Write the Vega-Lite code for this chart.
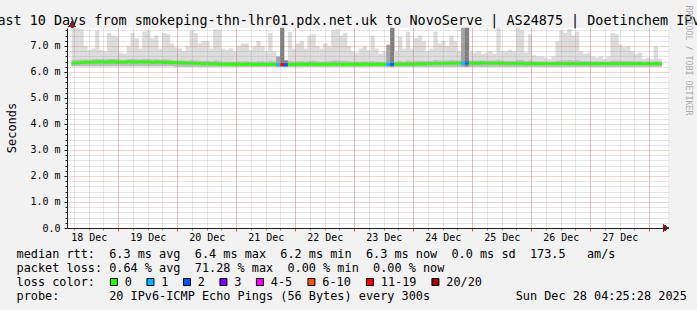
{
  "$schema": "https://vega.github.io/schema/vega-lite/v6.json",
  "width": 601,
  "height": 200,
  "autosize": {"type": "none"},
  "padding": {"left": 67, "top": 28, "right": 29, "bottom": 82},
  "background": "#f2f2f2",
  "config": {
    "view": {"fill": "#ffffff", "stroke": null},
    "font": "DejaVu Sans Mono",
    "axis": {"labelFont": "DejaVu Sans Mono", "titleFont": "DejaVu Sans Mono", "titleFontWeight": "normal", "labelColor": "#000000", "titleColor": "#000000", "labelFlush": false, "labelOverlap": false}
  },
  "data": {"values": [
    {"t":"2025-12-18T05:53:00Z","lo":6.22,"p":6.46,"hi":7.7,"med":6.34,"loss":"0"},
    {"t":"2025-12-18T07:29:00Z","lo":6.22,"p":6.47,"hi":7.7,"med":6.35,"loss":"0"},
    {"t":"2025-12-18T09:05:00Z","lo":6.22,"p":6.48,"hi":7.65,"med":6.36,"loss":"0"},
    {"t":"2025-12-18T10:41:00Z","lo":6.22,"p":6.48,"hi":7.0,"med":6.37,"loss":"0"},
    {"t":"2025-12-18T12:17:00Z","lo":6.22,"p":6.47,"hi":6.85,"med":6.37,"loss":"0"},
    {"t":"2025-12-18T13:53:00Z","lo":6.22,"p":6.49,"hi":6.9,"med":6.38,"loss":"0"},
    {"t":"2025-12-18T15:29:00Z","lo":6.22,"p":6.5,"hi":7.6,"med":6.38,"loss":"0"},
    {"t":"2025-12-18T17:05:00Z","lo":6.22,"p":6.49,"hi":6.85,"med":6.39,"loss":"0"},
    {"t":"2025-12-18T18:41:00Z","lo":6.22,"p":6.48,"hi":6.8,"med":6.38,"loss":"0"},
    {"t":"2025-12-18T20:17:00Z","lo":6.22,"p":6.5,"hi":7.5,"med":6.38,"loss":"0"},
    {"t":"2025-12-18T21:53:00Z","lo":6.22,"p":6.5,"hi":7.4,"med":6.39,"loss":"0"},
    {"t":"2025-12-18T23:29:00Z","lo":6.22,"p":6.49,"hi":7.35,"med":6.38,"loss":"0"},
    {"t":"2025-12-19T01:05:00Z","lo":6.22,"p":6.47,"hi":6.75,"med":6.38,"loss":"0"},
    {"t":"2025-12-19T02:41:00Z","lo":6.22,"p":6.47,"hi":6.7,"med":6.38,"loss":"0"},
    {"t":"2025-12-19T04:17:00Z","lo":6.22,"p":6.49,"hi":7.0,"med":6.39,"loss":"0"},
    {"t":"2025-12-19T05:53:00Z","lo":6.22,"p":6.5,"hi":7.5,"med":6.38,"loss":"0"},
    {"t":"2025-12-19T07:29:00Z","lo":6.22,"p":6.49,"hi":7.3,"med":6.38,"loss":"0"},
    {"t":"2025-12-19T09:05:00Z","lo":6.22,"p":6.48,"hi":6.9,"med":6.39,"loss":"0"},
    {"t":"2025-12-19T10:41:00Z","lo":6.22,"p":6.5,"hi":7.55,"med":6.38,"loss":"0"},
    {"t":"2025-12-19T12:17:00Z","lo":6.22,"p":6.5,"hi":7.6,"med":6.38,"loss":"0"},
    {"t":"2025-12-19T13:53:00Z","lo":6.22,"p":6.48,"hi":7.3,"med":6.37,"loss":"0"},
    {"t":"2025-12-19T15:29:00Z","lo":6.22,"p":6.49,"hi":7.4,"med":6.38,"loss":"0"},
    {"t":"2025-12-19T17:05:00Z","lo":6.22,"p":6.47,"hi":6.9,"med":6.38,"loss":"0"},
    {"t":"2025-12-19T18:41:00Z","lo":6.22,"p":6.49,"hi":7.5,"med":6.37,"loss":"0"},
    {"t":"2025-12-19T20:17:00Z","lo":6.22,"p":6.48,"hi":7.45,"med":6.37,"loss":"0"},
    {"t":"2025-12-19T21:53:00Z","lo":6.22,"p":6.46,"hi":7.1,"med":6.36,"loss":"0"},
    {"t":"2025-12-19T23:29:00Z","lo":6.2,"p":6.45,"hi":6.95,"med":6.36,"loss":"0"},
    {"t":"2025-12-20T01:05:00Z","lo":6.2,"p":6.45,"hi":6.9,"med":6.35,"loss":"0"},
    {"t":"2025-12-20T02:41:00Z","lo":6.2,"p":6.44,"hi":6.8,"med":6.35,"loss":"0"},
    {"t":"2025-12-20T04:17:00Z","lo":6.2,"p":6.44,"hi":7.0,"med":6.34,"loss":"0"},
    {"t":"2025-12-20T05:53:00Z","lo":6.2,"p":6.46,"hi":7.6,"med":6.34,"loss":"0"},
    {"t":"2025-12-20T07:29:00Z","lo":6.2,"p":6.45,"hi":7.5,"med":6.33,"loss":"0"},
    {"t":"2025-12-20T09:05:00Z","lo":6.2,"p":6.43,"hi":7.1,"med":6.33,"loss":"0"},
    {"t":"2025-12-20T10:41:00Z","lo":6.2,"p":6.43,"hi":7.2,"med":6.32,"loss":"0"},
    {"t":"2025-12-20T12:17:00Z","lo":6.2,"p":6.43,"hi":7.2,"med":6.32,"loss":"0"},
    {"t":"2025-12-20T13:53:00Z","lo":6.2,"p":6.41,"hi":6.9,"med":6.31,"loss":"0"},
    {"t":"2025-12-20T15:29:00Z","lo":6.2,"p":6.44,"hi":7.65,"med":6.31,"loss":"0"},
    {"t":"2025-12-20T17:05:00Z","lo":6.2,"p":6.43,"hi":7.6,"med":6.3,"loss":"0"},
    {"t":"2025-12-20T18:41:00Z","lo":6.2,"p":6.4,"hi":6.9,"med":6.3,"loss":"0"},
    {"t":"2025-12-20T20:17:00Z","lo":6.2,"p":6.4,"hi":6.85,"med":6.3,"loss":"0"},
    {"t":"2025-12-20T21:53:00Z","lo":6.2,"p":6.4,"hi":6.9,"med":6.29,"loss":"0"},
    {"t":"2025-12-20T23:29:00Z","lo":6.2,"p":6.4,"hi":6.8,"med":6.3,"loss":"0"},
    {"t":"2025-12-21T01:05:00Z","lo":6.2,"p":6.41,"hi":7.0,"med":6.3,"loss":"0"},
    {"t":"2025-12-21T02:41:00Z","lo":6.2,"p":6.41,"hi":7.1,"med":6.29,"loss":"0"},
    {"t":"2025-12-21T04:17:00Z","lo":6.2,"p":6.42,"hi":7.1,"med":6.3,"loss":"0"},
    {"t":"2025-12-21T05:53:00Z","lo":6.2,"p":6.4,"hi":6.85,"med":6.3,"loss":"0"},
    {"t":"2025-12-21T07:29:00Z","lo":6.2,"p":6.4,"hi":7.0,"med":6.29,"loss":"0"},
    {"t":"2025-12-21T09:05:00Z","lo":6.2,"p":6.42,"hi":7.2,"med":6.29,"loss":"0"},
    {"t":"2025-12-21T10:41:00Z","lo":6.2,"p":6.41,"hi":7.0,"med":6.3,"loss":"0"},
    {"t":"2025-12-21T12:17:00Z","lo":6.2,"p":6.4,"hi":6.8,"med":6.29,"loss":"0"},
    {"t":"2025-12-21T13:53:00Z","lo":6.2,"p":6.43,"hi":7.5,"med":6.29,"loss":"0"},
    {"t":"2025-12-21T15:29:00Z","lo":6.2,"p":6.4,"hi":6.8,"med":6.29,"loss":"0"},
    {"t":"2025-12-21T17:05:00Z","lo":6.2,"p":6.4,"hi":6.6,"med":6.28,"loss":"1"},
    {"t":"2025-12-21T18:41:00Z","lo":6.2,"p":6.45,"hi":7.7,"med":6.29,"loss":"11-19"},
    {"t":"2025-12-21T20:17:00Z","lo":6.2,"p":6.4,"hi":6.45,"med":6.28,"loss":"2"},
    {"t":"2025-12-21T21:53:00Z","lo":6.2,"p":6.43,"hi":7.55,"med":6.29,"loss":"0"},
    {"t":"2025-12-21T23:29:00Z","lo":6.2,"p":6.4,"hi":6.9,"med":6.3,"loss":"0"},
    {"t":"2025-12-22T01:05:00Z","lo":6.2,"p":6.41,"hi":7.1,"med":6.3,"loss":"0"},
    {"t":"2025-12-22T02:41:00Z","lo":6.2,"p":6.42,"hi":7.2,"med":6.3,"loss":"0"},
    {"t":"2025-12-22T04:17:00Z","lo":6.2,"p":6.4,"hi":6.9,"med":6.29,"loss":"0"},
    {"t":"2025-12-22T05:53:00Z","lo":6.2,"p":6.43,"hi":7.4,"med":6.3,"loss":"0"},
    {"t":"2025-12-22T07:29:00Z","lo":6.2,"p":6.43,"hi":7.45,"med":6.3,"loss":"0"},
    {"t":"2025-12-22T09:05:00Z","lo":6.2,"p":6.41,"hi":7.0,"med":6.29,"loss":"0"},
    {"t":"2025-12-22T10:41:00Z","lo":6.2,"p":6.4,"hi":6.9,"med":6.3,"loss":"0"},
    {"t":"2025-12-22T12:17:00Z","lo":6.2,"p":6.41,"hi":7.1,"med":6.3,"loss":"0"},
    {"t":"2025-12-22T13:53:00Z","lo":6.2,"p":6.41,"hi":7.0,"med":6.29,"loss":"0"},
    {"t":"2025-12-22T15:29:00Z","lo":6.2,"p":6.44,"hi":7.6,"med":6.3,"loss":"0"},
    {"t":"2025-12-22T17:05:00Z","lo":6.2,"p":6.44,"hi":7.65,"med":6.3,"loss":"0"},
    {"t":"2025-12-22T18:41:00Z","lo":6.2,"p":6.43,"hi":7.4,"med":6.3,"loss":"0"},
    {"t":"2025-12-22T20:17:00Z","lo":6.2,"p":6.43,"hi":7.5,"med":6.29,"loss":"0"},
    {"t":"2025-12-22T21:53:00Z","lo":6.2,"p":6.41,"hi":7.0,"med":6.3,"loss":"0"},
    {"t":"2025-12-22T23:29:00Z","lo":6.2,"p":6.4,"hi":6.8,"med":6.3,"loss":"0"},
    {"t":"2025-12-23T01:05:00Z","lo":6.2,"p":6.4,"hi":6.75,"med":6.3,"loss":"0"},
    {"t":"2025-12-23T02:41:00Z","lo":6.2,"p":6.4,"hi":6.9,"med":6.29,"loss":"0"},
    {"t":"2025-12-23T04:17:00Z","lo":6.2,"p":6.41,"hi":7.0,"med":6.3,"loss":"0"},
    {"t":"2025-12-23T05:53:00Z","lo":6.2,"p":6.4,"hi":6.85,"med":6.3,"loss":"0"},
    {"t":"2025-12-23T07:29:00Z","lo":6.2,"p":6.42,"hi":7.4,"med":6.29,"loss":"0"},
    {"t":"2025-12-23T09:05:00Z","lo":6.2,"p":6.4,"hi":6.9,"med":6.3,"loss":"0"},
    {"t":"2025-12-23T10:41:00Z","lo":6.2,"p":6.39,"hi":6.7,"med":6.3,"loss":"0"},
    {"t":"2025-12-23T12:17:00Z","lo":6.2,"p":6.39,"hi":6.8,"med":6.29,"loss":"0"},
    {"t":"2025-12-23T13:53:00Z","lo":6.2,"p":6.41,"hi":7.05,"med":6.29,"loss":"1"},
    {"t":"2025-12-23T15:29:00Z","lo":6.2,"p":6.45,"hi":7.7,"med":6.3,"loss":"2"},
    {"t":"2025-12-23T17:05:00Z","lo":6.2,"p":6.4,"hi":6.8,"med":6.3,"loss":"0"},
    {"t":"2025-12-23T18:41:00Z","lo":6.2,"p":6.42,"hi":7.35,"med":6.3,"loss":"0"},
    {"t":"2025-12-23T20:17:00Z","lo":6.2,"p":6.4,"hi":6.9,"med":6.3,"loss":"0"},
    {"t":"2025-12-23T21:53:00Z","lo":6.2,"p":6.44,"hi":7.55,"med":6.31,"loss":"0"},
    {"t":"2025-12-23T23:29:00Z","lo":6.2,"p":6.41,"hi":6.9,"med":6.3,"loss":"0"},
    {"t":"2025-12-24T01:05:00Z","lo":6.2,"p":6.43,"hi":7.3,"med":6.31,"loss":"0"},
    {"t":"2025-12-24T02:41:00Z","lo":6.2,"p":6.43,"hi":7.4,"med":6.31,"loss":"0"},
    {"t":"2025-12-24T04:17:00Z","lo":6.2,"p":6.42,"hi":7.2,"med":6.31,"loss":"0"},
    {"t":"2025-12-24T05:53:00Z","lo":6.2,"p":6.42,"hi":6.8,"med":6.32,"loss":"0"},
    {"t":"2025-12-24T07:29:00Z","lo":6.2,"p":6.42,"hi":6.9,"med":6.32,"loss":"0"},
    {"t":"2025-12-24T09:05:00Z","lo":6.2,"p":6.46,"hi":7.55,"med":6.33,"loss":"0"},
    {"t":"2025-12-24T10:41:00Z","lo":6.2,"p":6.44,"hi":7.1,"med":6.33,"loss":"0"},
    {"t":"2025-12-24T12:17:00Z","lo":6.2,"p":6.44,"hi":7.2,"med":6.33,"loss":"0"},
    {"t":"2025-12-24T13:53:00Z","lo":6.2,"p":6.44,"hi":7.0,"med":6.34,"loss":"0"},
    {"t":"2025-12-24T15:29:00Z","lo":6.2,"p":6.46,"hi":7.4,"med":6.34,"loss":"0"},
    {"t":"2025-12-24T17:05:00Z","lo":6.2,"p":6.45,"hi":7.2,"med":6.34,"loss":"0"},
    {"t":"2025-12-24T18:41:00Z","lo":6.2,"p":6.44,"hi":6.8,"med":6.34,"loss":"0"},
    {"t":"2025-12-24T20:17:00Z","lo":6.2,"p":6.48,"hi":7.7,"med":6.34,"loss":"1"},
    {"t":"2025-12-24T21:53:00Z","lo":6.2,"p":6.48,"hi":7.7,"med":6.35,"loss":"2"},
    {"t":"2025-12-24T23:29:00Z","lo":6.2,"p":6.44,"hi":6.8,"med":6.34,"loss":"0"},
    {"t":"2025-12-25T01:05:00Z","lo":6.2,"p":6.44,"hi":6.75,"med":6.34,"loss":"0"},
    {"t":"2025-12-25T02:41:00Z","lo":6.2,"p":6.44,"hi":6.8,"med":6.34,"loss":"0"},
    {"t":"2025-12-25T04:17:00Z","lo":6.2,"p":6.45,"hi":6.7,"med":6.35,"loss":"0"},
    {"t":"2025-12-25T05:53:00Z","lo":6.2,"p":6.44,"hi":6.75,"med":6.34,"loss":"0"},
    {"t":"2025-12-25T07:29:00Z","lo":6.2,"p":6.44,"hi":6.8,"med":6.34,"loss":"0"},
    {"t":"2025-12-25T09:05:00Z","lo":6.2,"p":6.44,"hi":6.7,"med":6.34,"loss":"0"},
    {"t":"2025-12-25T10:41:00Z","lo":6.2,"p":6.47,"hi":7.7,"med":6.34,"loss":"0"},
    {"t":"2025-12-25T12:17:00Z","lo":6.2,"p":6.44,"hi":6.8,"med":6.34,"loss":"0"},
    {"t":"2025-12-25T13:53:00Z","lo":6.2,"p":6.43,"hi":6.8,"med":6.33,"loss":"0"},
    {"t":"2025-12-25T15:29:00Z","lo":6.2,"p":6.43,"hi":6.85,"med":6.33,"loss":"0"},
    {"t":"2025-12-25T17:05:00Z","lo":6.2,"p":6.43,"hi":6.8,"med":6.33,"loss":"0"},
    {"t":"2025-12-25T18:41:00Z","lo":6.2,"p":6.46,"hi":7.7,"med":6.33,"loss":"0"},
    {"t":"2025-12-25T20:17:00Z","lo":6.2,"p":6.46,"hi":7.6,"med":6.33,"loss":"0"},
    {"t":"2025-12-25T21:53:00Z","lo":6.2,"p":6.42,"hi":6.75,"med":6.32,"loss":"0"},
    {"t":"2025-12-25T23:29:00Z","lo":6.2,"p":6.44,"hi":7.45,"med":6.32,"loss":"0"},
    {"t":"2025-12-26T01:05:00Z","lo":6.2,"p":6.41,"hi":6.65,"med":6.32,"loss":"0"},
    {"t":"2025-12-26T02:41:00Z","lo":6.2,"p":6.41,"hi":6.6,"med":6.32,"loss":"0"},
    {"t":"2025-12-26T04:17:00Z","lo":6.2,"p":6.41,"hi":6.6,"med":6.32,"loss":"0"},
    {"t":"2025-12-26T05:53:00Z","lo":6.2,"p":6.41,"hi":6.55,"med":6.32,"loss":"0"},
    {"t":"2025-12-26T07:29:00Z","lo":6.2,"p":6.4,"hi":6.5,"med":6.32,"loss":"0"},
    {"t":"2025-12-26T09:05:00Z","lo":6.2,"p":6.41,"hi":6.6,"med":6.32,"loss":"0"},
    {"t":"2025-12-26T10:41:00Z","lo":6.2,"p":6.43,"hi":7.2,"med":6.32,"loss":"0"},
    {"t":"2025-12-26T12:17:00Z","lo":6.2,"p":6.45,"hi":7.6,"med":6.32,"loss":"0"},
    {"t":"2025-12-26T13:53:00Z","lo":6.2,"p":6.45,"hi":7.5,"med":6.32,"loss":"0"},
    {"t":"2025-12-26T15:29:00Z","lo":6.2,"p":6.46,"hi":7.65,"med":6.32,"loss":"0"},
    {"t":"2025-12-26T17:05:00Z","lo":6.2,"p":6.44,"hi":7.4,"med":6.32,"loss":"0"},
    {"t":"2025-12-26T18:41:00Z","lo":6.2,"p":6.45,"hi":7.55,"med":6.32,"loss":"0"},
    {"t":"2025-12-26T20:17:00Z","lo":6.2,"p":6.42,"hi":6.8,"med":6.32,"loss":"0"},
    {"t":"2025-12-26T21:53:00Z","lo":6.2,"p":6.42,"hi":6.7,"med":6.32,"loss":"0"},
    {"t":"2025-12-26T23:29:00Z","lo":6.2,"p":6.42,"hi":6.75,"med":6.32,"loss":"0"},
    {"t":"2025-12-27T01:05:00Z","lo":6.2,"p":6.41,"hi":6.6,"med":6.32,"loss":"0"},
    {"t":"2025-12-27T02:41:00Z","lo":6.2,"p":6.41,"hi":6.55,"med":6.32,"loss":"0"},
    {"t":"2025-12-27T04:17:00Z","lo":6.2,"p":6.41,"hi":6.6,"med":6.32,"loss":"0"},
    {"t":"2025-12-27T05:53:00Z","lo":6.2,"p":6.4,"hi":6.5,"med":6.32,"loss":"0"},
    {"t":"2025-12-27T07:29:00Z","lo":6.2,"p":6.41,"hi":6.6,"med":6.32,"loss":"0"},
    {"t":"2025-12-27T09:05:00Z","lo":6.2,"p":6.44,"hi":7.5,"med":6.32,"loss":"0"},
    {"t":"2025-12-27T10:41:00Z","lo":6.2,"p":6.44,"hi":7.45,"med":6.32,"loss":"0"},
    {"t":"2025-12-27T12:17:00Z","lo":6.2,"p":6.43,"hi":7.05,"med":6.32,"loss":"0"},
    {"t":"2025-12-27T13:53:00Z","lo":6.2,"p":6.42,"hi":6.95,"med":6.32,"loss":"0"},
    {"t":"2025-12-27T15:29:00Z","lo":6.2,"p":6.43,"hi":7.0,"med":6.32,"loss":"0"},
    {"t":"2025-12-27T17:05:00Z","lo":6.2,"p":6.42,"hi":6.8,"med":6.32,"loss":"0"},
    {"t":"2025-12-27T18:41:00Z","lo":6.2,"p":6.41,"hi":6.7,"med":6.32,"loss":"0"},
    {"t":"2025-12-27T20:17:00Z","lo":6.2,"p":6.42,"hi":6.75,"med":6.32,"loss":"0"},
    {"t":"2025-12-27T21:53:00Z","lo":6.2,"p":6.4,"hi":6.5,"med":6.32,"loss":"0"},
    {"t":"2025-12-27T23:29:00Z","lo":6.2,"p":6.41,"hi":6.55,"med":6.32,"loss":"0"},
    {"t":"2025-12-28T01:05:00Z","lo":6.2,"p":6.4,"hi":6.5,"med":6.32,"loss":"0"},
    {"t":"2025-12-28T02:41:00Z","lo":6.2,"p":6.43,"hi":6.98,"med":6.32,"loss":"0"},
    {"t":"2025-12-28T04:17:00Z","lo":6.2,"p":6.4,"hi":6.5,"med":6.32,"loss":"0"}
  ]},
  "layer": [
    {
      "mark": {"type": "bar", "size": 4.3},
      "encoding": {
        "x": {"field": "t", "type": "temporal",
          "scale": {"type": "utc", "domain": [1766034720000, 1766900160000]},
          "axis": {"orient": "bottom", "values": [1766037600000,1766059200000,1766080800000,1766102400000,1766124000000,1766145600000,1766167200000,1766188800000,1766210400000,1766232000000,1766253600000,1766275200000,1766296800000,1766318400000,1766340000000,1766361600000,1766383200000,1766404800000,1766426400000,1766448000000,1766469600000,1766491200000,1766512800000,1766534400000,1766556000000,1766577600000,1766599200000,1766620800000,1766642400000,1766664000000,1766685600000,1766707200000,1766728800000,1766750400000,1766772000000,1766793600000,1766815200000,1766836800000,1766858400000,1766880000000], "grid": true, "gridColor": "#a8a8a8", "gridOpacity": 0.6, "gridDash": [1,1], "ticks": true, "tickColor": "#8f8f8f", "tickSize": 2, "labels": false, "domain": false, "title": null, "zindex": 1}},
        "y": {"field": "hi", "type": "quantitative",
          "scale": {"domain": [0, 7.6923], "nice": false, "zero": false},
          "axis": {"orient": "left", "values": [0.2,0.4,0.6,0.8,1.2,1.4,1.6,1.8,2.2,2.4,2.6,2.8,3.2,3.4,3.6,3.8,4.2,4.4,4.6,4.8,5.2,5.4,5.6,5.8,6.2,6.4,6.6,6.8,7.2,7.4,7.6], "grid": true, "gridColor": "#a8a8a8", "gridOpacity": 0.6, "gridDash": [1,1], "ticks": true, "tickColor": "#1f1f1f", "tickSize": 2, "labels": false, "domain": false, "title": null, "zindex": 1}},
        "y2": {"field": "lo"},
        "color": {"condition": [{"test": "datum.loss === '1'", "value": "#a4a4a4"}, {"test": "datum.loss !== '0'", "value": "#7f7f7f"}], "value": "#dcdcdc"}
      }
    },
    {
      "mark": {"type": "bar", "size": 4.3},
      "transform": [{"filter": "datum.loss === '0'"}],
      "encoding": {
        "x": {"field": "t", "type": "temporal",
          "scale": {"type": "utc", "domain": [1766034720000, 1766900160000]},
          "axis": null},
        "y": {"field": "p", "type": "quantitative",
          "scale": {"domain": [0, 7.6923], "nice": false, "zero": false},
          "axis": null},
        "y2": {"field": "lo"},
        "color": {"value": "#bdbdbd"}
      }
    },
    {
      "mark": {"type": "tick", "orient": "horizontal", "size": 4.3, "thickness": 3, "opacity": 1},
      "encoding": {
        "x": {"field": "t", "type": "temporal",
          "scale": {"type": "utc", "domain": [1766034720000, 1766900160000]},
          "axis": {"orient": "bottom", "values": [1766102400000,1766188800000,1766275200000,1766361600000,1766448000000,1766534400000,1766620800000,1766707200000,1766793600000,1766880000000], "grid": true, "gridColor": "#de4f4f", "gridOpacity": 0.5, "gridDash": [1,1], "ticks": true, "tickColor": "#de4f4f", "tickSize": 3, "labels": false, "domain": true, "domainColor": "#1f1f1f", "title": null, "zindex": 1}},
        "y": {"field": "med", "type": "quantitative",
          "scale": {"domain": [0, 7.6923], "nice": false, "zero": false},
          "axis": {"orient": "left", "values": [0,1,2,3,4,5,6,7], "grid": true, "gridColor": "#de4f4f", "gridOpacity": 0.5, "gridDash": [1,1], "ticks": true, "tickColor": "#1f1f1f", "tickSize": 3, "domain": true, "domainColor": "#1f1f1f", "labelExpr": "datum.value == 0 ? '0.0' : format(datum.value, '.1f') + ' m'", "labelFontSize": 10, "labelPadding": 4, "title": "Seconds", "titleX": -52, "titleY": 99.5, "titleAngle": 270, "titleAlign": "center", "titleBaseline": "alphabetic", "titleFontSize": 12, "zindex": 1}},
        "color": {"field": "loss", "type": "nominal",
          "scale": {"domain": ["0","1","2","3","4-5","6-10","11-19","20/20"], "range": ["#26ff00","#00b8ff","#0059ff","#7e00ff","#ff00ff","#ff5500","#ff0000","#a10000"]},
          "legend": {"orient": "none", "legendX": 41, "legendY": 248, "direction": "horizontal", "title": null, "symbolType": "square", "symbolSize": 49, "symbolStrokeWidth": 1, "symbolStrokeColor": "#000000", "symbolOpacity": 1,
            "labelFont": "DejaVu Sans Mono", "labelFontSize": 11.85, "labelColor": "#000000", "labelOffset": 5, "columnPadding": 12.5, "padding": 0}}
      }
    },
    {
      "mark": {"type": "point", "shape": "triangle-up", "filled": true, "size": 40, "color": "#801f1f", "opacity": 1, "clip": false},
      "encoding": {
        "x": {"datum": 1766034720000, "type": "temporal",
          "scale": {"type": "utc", "domain": [1766034720000, 1766900160000]},
          "axis": {"orient": "bottom", "values": [1766059200000,1766145600000,1766232000000,1766318400000,1766404800000,1766491200000,1766577600000,1766664000000,1766750400000,1766836800000],
            "labelExpr": "utcFormat(datum.value, '%d %b')", "labelFontSize": 10, "labelPadding": 4, "ticks": false, "domain": false, "grid": false,
            "title": [
              "median\u00a0rtt:\u00a0\u00a06.3\u00a0ms\u00a0avg\u00a0\u00a06.4\u00a0ms\u00a0max\u00a0\u00a06.2\u00a0ms\u00a0min\u00a0\u00a06.3\u00a0ms\u00a0now\u00a0\u00a00.0\u00a0ms\u00a0sd\u00a0\u00a0173.5\u00a0\u00a0\u00a0am/s",
              "packet\u00a0loss:\u00a00.64\u00a0%\u00a0avg\u00a0\u00a071.28\u00a0%\u00a0max\u00a0\u00a00.00\u00a0%\u00a0min\u00a0\u00a00.00\u00a0%\u00a0now",
              "loss\u00a0color:",
              "probe:\u00a0\u00a0\u00a0\u00a0\u00a0\u00a0\u00a020\u00a0IPv6-ICMP\u00a0Echo\u00a0Pings\u00a0(56\u00a0Bytes)\u00a0every\u00a0300s\u00a0\u00a0\u00a0\u00a0\u00a0\u00a0\u00a0\u00a0\u00a0\u00a0\u00a0\u00a0Sun\u00a0Dec\u00a028\u00a004:25:28\u00a02025"
            ],
            "titleX": -51, "titleY": 20.8, "titleAlign": "left", "titleAngle": 0, "titleBaseline": "top", "titleFontSize": 11.85, "titleLineHeight": 14, "titleLimit": 3000, "zindex": 1}},
        "y": {"datum": 7.84, "type": "quantitative",
          "scale": {"domain": [0, 7.6923], "nice": false, "zero": false},
          "axis": {"orient": "right", "labels": false, "ticks": false, "domain": false, "grid": false, "title": "RRDTOOL / TOBI OETIKER", "titleX": 17, "titleY": 32, "titleAngle": 90, "titleAlign": "center", "titleBaseline": "alphabetic", "titleFontSize": 8.3, "titleColor": "#aaaaaa"}}
      }
    },
    {
      "mark": {"type": "point", "shape": "triangle-right", "filled": true, "size": 40, "color": "#801f1f", "opacity": 1, "clip": false},
      "encoding": {
        "x": {"datum": 1766904480000, "type": "temporal",
          "scale": {"type": "utc", "domain": [1766034720000, 1766900160000]},
          "axis": {"orient": "top", "labels": false, "ticks": false, "domain": false, "grid": false, "title": "Last 10 Days from smokeping-thn-lhr01.pdx.net.uk to NovoServe | AS24875 | Doetinchem IPv6", "titleX": 281.4, "titleY": -4, "titleAlign": "center", "titleAngle": 0, "titleBaseline": "alphabetic", "titleFontSize": 13.43, "titleLimit": 3000}},
        "y": {"datum": 0, "type": "quantitative",
          "scale": {"domain": [0, 7.6923], "nice": false, "zero": false},
          "axis": null}
      }
    }
  ],
  "resolve": {"axis": {"x": "independent", "y": "independent"}}
}
